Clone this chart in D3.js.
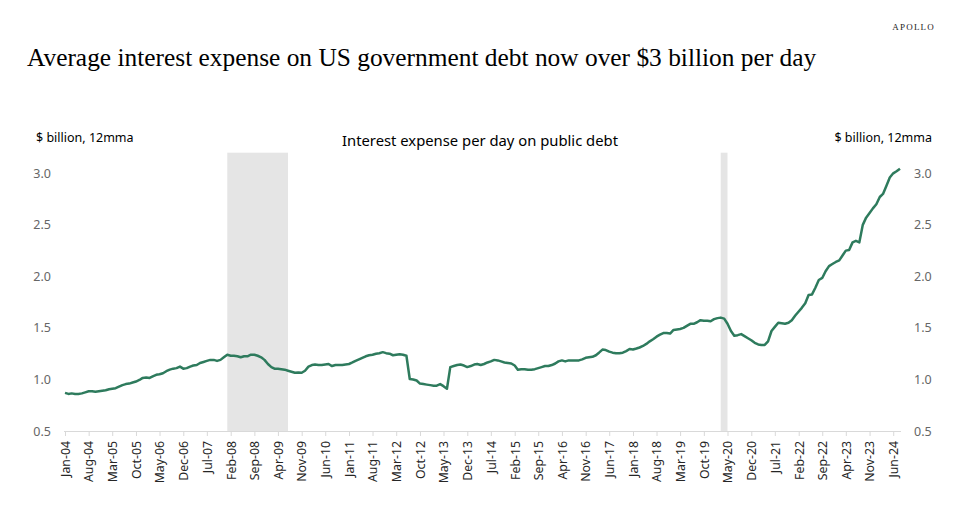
<!DOCTYPE html>
<html>
<head>
<meta charset="utf-8">
<script src="https://cdn.jsdelivr.net/npm/d3@7"></script>
<style>
  html, body { margin: 0; padding: 0; background: #fff; }
  svg { display: block; }
</style>
</head>
<body>
<svg id="chart" width="960" height="505"></svg>
<script>
// ---------- DATA ----------
const startMonth = "2004-01";
// monthly values ($ billion per day, 12mma), Jan-2004 .. Aug-2024
const values2004 = [0.870, 0.860, 0.865, 0.860, 0.860, 0.865, 0.875, 0.885, 0.885, 0.880, 0.885, 0.890];
const values2005 = [0.895, 0.905, 0.910, 0.915, 0.930, 0.945, 0.955, 0.960, 0.970, 0.980, 0.995, 1.015];
const values2006 = [1.020, 1.015, 1.030, 1.045, 1.050, 1.060, 1.080, 1.095, 1.105, 1.110, 1.125, 1.105];
const values2007 = [1.110, 1.125, 1.135, 1.140, 1.160, 1.170, 1.180, 1.190, 1.190, 1.180, 1.190, 1.215];
const values2008 = [1.240, 1.230, 1.230, 1.225, 1.215, 1.225, 1.225, 1.240, 1.240, 1.230, 1.215, 1.190];
const values2009 = [1.150, 1.120, 1.105, 1.105, 1.100, 1.095, 1.085, 1.075, 1.065, 1.068, 1.065, 1.085];
const values2010 = [1.125, 1.140, 1.145, 1.140, 1.140, 1.145, 1.150, 1.130, 1.140, 1.140, 1.140, 1.145];
const values2011 = [1.150, 1.165, 1.180, 1.195, 1.210, 1.225, 1.235, 1.240, 1.250, 1.255, 1.265, 1.255];
const values2012 = [1.250, 1.235, 1.240, 1.245, 1.240, 1.230, 1.005, 1.000, 0.990, 0.960, 0.955, 0.950];
const values2013 = [0.945, 0.940, 0.940, 0.955, 0.935, 0.910, 1.120, 1.130, 1.140, 1.145, 1.135, 1.120];
const values2014 = [1.130, 1.145, 1.150, 1.140, 1.150, 1.165, 1.175, 1.190, 1.185, 1.175, 1.165, 1.160];
const values2015 = [1.155, 1.135, 1.095, 1.100, 1.100, 1.095, 1.095, 1.100, 1.110, 1.120, 1.130, 1.130];
const values2016 = [1.140, 1.155, 1.175, 1.185, 1.175, 1.185, 1.185, 1.185, 1.185, 1.195, 1.210, 1.215];
const values2017 = [1.220, 1.235, 1.260, 1.290, 1.285, 1.270, 1.260, 1.255, 1.255, 1.260, 1.275, 1.295];
const values2018 = [1.290, 1.300, 1.310, 1.325, 1.345, 1.370, 1.390, 1.415, 1.435, 1.450, 1.450, 1.445];
const values2019 = [1.480, 1.485, 1.490, 1.500, 1.520, 1.540, 1.540, 1.555, 1.575, 1.570, 1.570, 1.565];
const values2020 = [1.585, 1.595, 1.600, 1.590, 1.540, 1.470, 1.425, 1.430, 1.440, 1.420, 1.400, 1.380];
const values2021 = [1.355, 1.340, 1.335, 1.335, 1.370, 1.470, 1.510, 1.550, 1.545, 1.540, 1.550, 1.575];
const values2022 = [1.620, 1.660, 1.695, 1.740, 1.820, 1.825, 1.890, 1.965, 1.985, 2.050, 2.100, 2.120];
const values2023 = [2.140, 2.155, 2.200, 2.250, 2.255, 2.330, 2.345, 2.330, 2.500, 2.570, 2.615, 2.660];
const values2024 = [2.700, 2.770, 2.800, 2.880, 2.960, 3.000, 3.020, 3.045];

const recessions = [["2008-01", "2009-07"], ["2020-03", "2020-05"]];
const yTicks = [0.5, 1.0, 1.5, 2.0, 2.5, 3.0];
const xTickStep = 7; // months between category labels
const xTickEnd = "2024-06";

const title = "Average interest expense on US government debt now over $3 billion per day";
const subtitle = "Interest expense per day on public debt";
const unitLabel = "$ billion, 12mma";
const brand = "APOLLO";

// ---------- BUILD ----------
const parseM = d3.timeParse("%Y-%m");
const allValues = [].concat(values2004, values2005, values2006, values2007, values2008,
  values2009, values2010, values2011, values2012, values2013, values2014, values2015,
  values2016, values2017, values2018, values2019, values2020, values2021, values2022,
  values2023, values2024);
const start = parseM(startMonth);
const data = allValues.map((v, i) => ({ date: d3.timeMonth.offset(start, i), value: v }));

const svg = d3.select("#chart");
const sans = "'Noto Sans', 'Open Sans', sans-serif";

const x = d3.scaleTime()
  .domain([data[0].date, data[data.length - 1].date])
  .range([65, 900]);
const y = d3.scaleLinear().domain([0.5, 3.2]).range([431, 152.7]);

// recession shading
svg.append("g").selectAll("rect").data(recessions).join("rect")
  .attr("x", d => x(parseM(d[0])))
  .attr("width", d => x(parseM(d[1])) - x(parseM(d[0])))
  .attr("y", y(3.2))
  .attr("height", y(0.5) - y(3.2))
  .attr("fill", "#e5e5e5");

// x axis
const xTickVals = d3.timeMonth.every(1).range(start, d3.timeMonth.offset(parseM(xTickEnd), 1))
  .filter((d, i) => i % xTickStep === 0);
const xAxis = d3.axisBottom(x)
  .tickValues(xTickVals)
  .tickFormat(d3.timeFormat("%b-%y"))
  .tickSizeInner(5).tickSizeOuter(0);
const gx = svg.append("g").attr("transform", `translate(0,${y(0.5)})`).call(xAxis);
gx.select(".domain").attr("stroke", "#d9d9d9").attr("stroke-width", 1.2)
  .attr("d", `M${x.range()[0] - 1},0.5H${x.range()[1] + 1}`);
gx.selectAll(".tick line").attr("stroke", "#d9d9d9");
gx.selectAll(".tick text")
  .attr("font-family", sans).attr("font-size", 12.3).attr("fill", "#262626")
  .attr("transform", "rotate(-90)")
  .attr("text-anchor", "end")
  .attr("x", -10).attr("y", 0).attr("dy", "0.35em");

// y axes (labels only)
const yLeft = d3.axisLeft(y).tickValues(yTicks).tickFormat(d3.format(".1f")).tickSize(0);
const gyl = svg.append("g").attr("transform", "translate(51,0)").call(yLeft);
gyl.select(".domain").remove();
gyl.selectAll("text").attr("font-family", sans).attr("font-size", 12.5).attr("fill", "#666").attr("x", 0);

const yRight = d3.axisRight(y).tickValues(yTicks).tickFormat(d3.format(".1f")).tickSize(0);
const gyr = svg.append("g").attr("transform", "translate(914,0)").call(yRight);
gyr.select(".domain").remove();
gyr.selectAll("text").attr("font-family", sans).attr("font-size", 12.5).attr("fill", "#666").attr("x", 0);

// line
const line = d3.line().x(d => x(d.date)).y(d => y(d.value));
svg.append("path").datum(data)
  .attr("d", line)
  .attr("fill", "none")
  .attr("stroke", "#2e7b5d")
  .attr("stroke-width", 2.5)
  .attr("stroke-linejoin", "round");

// texts
svg.append("text").attr("x", 27).attr("y", 66)
  .attr("font-family", "'Liberation Serif', 'DejaVu Serif', serif")
  .attr("font-size", 25.4).attr("fill", "#000").text(title);

svg.append("text").attr("x", 935).attr("y", 30).attr("text-anchor", "end")
  .attr("font-family", "'Liberation Serif', serif").attr("font-size", 9)
  .attr("letter-spacing", 1.2).attr("fill", "#222").text(brand);

svg.append("text").attr("x", 480).attr("y", 146).attr("text-anchor", "middle")
  .attr("font-family", sans).attr("font-size", 14.8).attr("fill", "#000").text(subtitle);

svg.append("text").attr("x", 36).attr("y", 142)
  .attr("font-family", sans).attr("font-size", 12.5).attr("fill", "#000").text(unitLabel);
svg.append("text").attr("x", 932).attr("y", 142).attr("text-anchor", "end")
  .attr("font-family", sans).attr("font-size", 12.5).attr("fill", "#000").text(unitLabel);
</script>
</body>
</html>
